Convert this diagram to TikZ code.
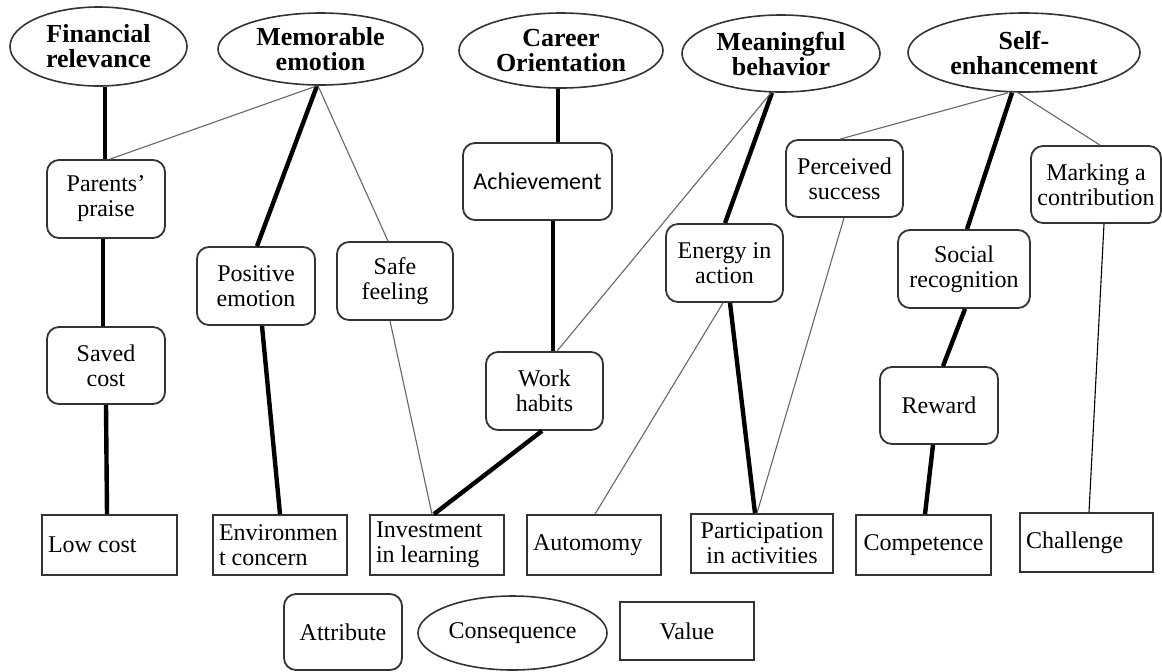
\documentclass[tikz,border=0pt]{standalone}
\usepackage{fontspec}
\setmainfont{Liberation Serif}
\newfontfamily\calibfont{Carlito}
\usetikzlibrary{shapes.geometric,calc}
\begin{document}
\begin{tikzpicture}[x=0.5pt,y=-0.5pt,
  consq/.style={ellipse,draw=black!80,line width=0.8pt,inner sep=0pt,
    font=\fontsize{13}{12.5}\selectfont\bfseries,align=center},
  attrbox/.style={rectangle,rounded corners=6pt,draw=black!80,line width=0.9pt,inner sep=0pt,
    font=\fontsize{12}{12.5}\selectfont,align=center},
  valbox/.style={rectangle,draw=black!80,line width=0.9pt,inner xsep=3pt,inner ysep=0pt,
    font=\fontsize{12}{12.5}\selectfont,align=center},
  lval/.style={valbox,align=flush left,text width=#1},
  thk/.style={line width=2.2pt,black},
  thn/.style={line width=0.55pt,black!60},
  thnb/.style={line width=0.55pt,black},
]
\useasboundingbox (0,0) rectangle (1162,671);

% Consequence ellipses (top)
\node[consq,minimum width=88.5pt,minimum height=39.5pt] (fin) at (98.5,46.5) {Financial\\relevance};
\node[consq,minimum width=102.5pt,minimum height=36pt] (mem) at (320.5,49) {Memorable\\emotion};
\node[consq,minimum width=102pt,minimum height=37.5pt] (car) at (561,50.5) {Career\\Orientation};
\node[consq,minimum width=99pt,minimum height=38.5pt] (mea) at (781,53.5) {Meaningful\\behavior};
\node[consq,minimum width=116pt,minimum height=39.5pt] (self) at (1024,52.5) {Self-\\enhancement};

% Attribute rounded boxes
\node[attrbox,minimum width=59pt,minimum height=39pt] (pp) at (106,199) {Parents'\\praise};
\node[attrbox,minimum width=59pt,minimum height=38.5pt] (sc) at (106,365.5) {Saved\\cost};
\node[attrbox,minimum width=59pt,minimum height=39pt] (pe) at (256,286) {Positive\\emotion};
\node[attrbox,minimum width=58pt,minimum height=39pt] (sf) at (395,281) {Safe\\feeling};
\node[attrbox,minimum width=74.5pt,minimum height=38.5pt,font=\fontsize{12}{12.5}\calibfont] (ach) at (537.5,181.5) {Achievement};
\node[attrbox,minimum width=58.5pt,minimum height=39pt] (wh) at (544.5,391) {Work\\habits};
\node[attrbox,minimum width=58.5pt,minimum height=39pt] (ea) at (724.5,263) {Energy in\\action};
\node[attrbox,minimum width=58.5pt,minimum height=38.5pt] (ps) at (844.5,178.5) {Perceived\\success};
\node[attrbox,minimum width=65pt,minimum height=38.5pt] (mc) at (1096,184.5) {Marking a\\contribution};
\node[attrbox,minimum width=66pt,minimum height=39pt] (sr) at (964,269) {Social\\recognition};
\node[attrbox,minimum width=59pt,minimum height=38.5pt] (rw) at (939,405.5) {Reward};

% Value boxes
\node[lval=61.5pt,minimum height=30pt] (lc) at (109.5,545) {Low cost};
\node[lval=61pt,minimum height=30pt] (ec) at (280,545) {Environmen\\t concern};
\node[lval=61pt,minimum height=30pt] (il) at (437,545) {Investment\\in learning};
\node[lval=61pt,minimum height=30pt] (au) at (594,545) {Automomy};
\node[valbox,minimum width=71pt,minimum height=29.5pt] (pa) at (762,543.5) {Participation\\in activities};
\node[valbox,minimum width=67.5pt,minimum height=30pt] (co) at (923.5,545) {Competence};
\node[lval=60.5pt,minimum height=29.5pt] (ch) at (1086.5,542.5) {Challenge};

% Legend
\node[attrbox,minimum width=59pt,minimum height=38pt] (latt) at (343,632) {Attribute};
\node[consq,minimum width=94.5pt,minimum height=37pt,font=\fontsize{12}{12.5}\selectfont] (lcons) at (512.5,633) {Consequence};
\node[valbox,minimum width=67pt,minimum height=29pt] (lval) at (687,631) {Value};

% Thick connectors
\draw[thk] ($(fin.south)+(6.5,0)$) -- ($(pp.north)+(-1,0)$);
\draw[thk] ($(pp.south)+(-3,0)$) -- ($(sc.north)+(-3,0)$);
\draw[thk] (sc.south) -- ($(lc.north)+(-2.5,0)$);
\draw[thk] ($(mem.south)+(-3.5,0)$) -- ($(pe.north)+(1,0)$);
\draw[thk] ($(pe.south)+(6,0)$) -- (ec.north);
\draw[thk] ($(car.south)+(-3,0)$) -- ($(ach.north)+(20.5,0)$);
\draw[thk] ($(ach.south)+(15.5,0)$) -- ($(wh.north)+(8.5,0)$);
\draw[thk] ($(wh.south)+(-2.5,0)$) -- ($(il.north)+(-3,0)$);
\draw[thk] ($(mea.south)+(-9,0)$) -- ($(ea.north)+(0.5,0)$);
\draw[thk] ($(ea.south)+(5.5,0)$) -- ($(pa.north)+(-7,0)$);
\draw[thk] ($(self.south)+(-12,0)$) -- ($(sr.north)+(3,0)$);
\draw[thk] ($(sr.south)+(1,0)$) -- ($(rw.north)+(4,0)$);
\draw[thk] ($(rw.south)+(-6,0)$) -- ($(co.north)+(1.5,0)$);

% Thin connectors
\draw[thn] ($(mem.south)+(-3.5,0)$) -- ($(pp.north)+(4,0)$);
\draw[thn] ($(mem.south)+(-2.5,0)$) -- ($(sf.north)+(-7,0)$);
\draw[thn] ($(sf.south)+(-5,0)$) -- ($(il.north)+(-5,0)$);
\draw[thn] ($(mea.south)+(-10,0)$) -- ($(wh.north)+(12.5,0)$);
\draw[thn] ($(ea.south)+(-1.5,0)$) -- ($(au.north)+(1,0)$);
\draw[thn] ($(ps.south)+(-0.5,0)$) -- ($(pa.north)+(-5,0)$);
\draw[thn] ($(self.south)+(-16,0)$) -- ($(ps.north)+(-4.5,0)$);
\draw[thn] ($(self.south)+(-6,0)$) -- ($(mc.north)+(4,0)$);
\draw[thnb] ($(mc.south)+(8,0)$) -- ($(ch.north)+(2.5,0)$);
\end{tikzpicture}
\end{document}
